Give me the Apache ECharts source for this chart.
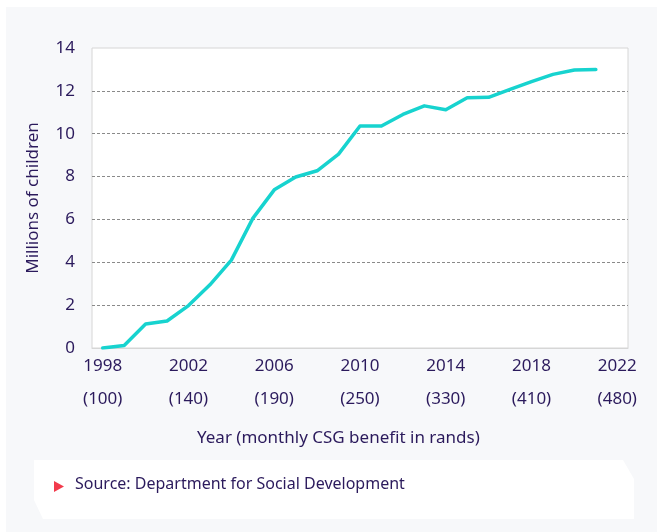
<!DOCTYPE html>
<html lang="en">
<head>
    <meta charset="UTF-8">
    <script src="https://cdn.jsdelivr.net/npm/echarts@6/dist/echarts.min.js"></script>
    <title>CSG recipients</title>
    <style>
        body { margin: 0; background: #ffffff; }
        #panel { position: absolute; left: 6px; top: 7px; width: 651px; height: 525px; background: #f7f8fa; }
        #chart { position: absolute; left: 0; top: 0; width: 657px; height: 532px; }
    </style>
</head>

<script>
    // years on the axis (2022 has no value yet)
    let years = ['1998', '1999', '2000', '2001', '2002', '2003', '2004', '2005', '2006', '2007', '2008', '2009',
                 '2010', '2011', '2012', '2013', '2014', '2015', '2016', '2017', '2018', '2019', '2020', '2021', '2022']
    // millions of children receiving the grant
    let children = [0.0, 0.12, 1.12, 1.26, 1.98, 2.95, 4.1, 6.05, 7.38, 7.98, 8.27, 9.05,
                    10.36, 10.36, 10.9, 11.3, 11.12, 11.68, 11.7, 12.07, 12.43, 12.77, 12.97, 13.0]
    // monthly benefit shown under each labelled year
    let benefit = {'1998': '100', '2002': '140', '2006': '190', '2010': '250', '2014': '330', '2018': '410', '2022': '480'}

    let textColor = '#2b1a5c'
    let font = 'Noto Sans'
</script>

<body>
    <div id="panel"></div>
    <div id="chart"></div>
    <script>
        var chart = echarts.init(document.getElementById('chart'))
        var option = {
            animation: false,
            textStyle: { fontFamily: font },
            grid: {
                left: 92, top: 48, width: 536, height: 300,
                show: true, backgroundColor: '#ffffff', borderColor: '#d6d6d6', borderWidth: 1
            },
            xAxis: {
                type: 'category',
                data: years,
                boundaryGap: true,
                axisLine: { lineStyle: { color: '#d6d6d6' } },
                axisTick: { show: false },
                axisLabel: {
                    interval: 3,
                    margin: 2,
                    color: textColor,
                    fontSize: 17,
                    lineHeight: 33,
                    formatter: function (v) { return v + '\n(' + benefit[v] + ')' }
                }
            },
            yAxis: {
                type: 'value',
                min: 0, max: 14, interval: 2,
                name: 'Millions of children',
                nameLocation: 'middle',
                nameGap: 50,
                nameTextStyle: { color: textColor, fontSize: 17 },
                axisLine: { show: false },
                axisTick: { show: false },
                axisLabel: { color: textColor, fontSize: 17, margin: 17 },
                splitLine: {
                    showMinLine: false, showMaxLine: false,
                    lineStyle: { color: '#8a8a8a', type: [3, 2], width: 1 }
                }
            },
            series: [{
                type: 'line',
                data: children,
                symbol: 'none',
                lineStyle: { color: '#17d3cf', width: 3.5, cap: 'round', join: 'round' }
            }],
            graphic: [
                {
                    type: 'text', left: 197, top: 430,
                    style: { text: 'Year (monthly CSG benefit in rands)', fill: textColor, font: '17px "Noto Sans"' }
                },
                {
                    type: 'polygon', z: 0,
                    shape: { points: [[34, 460], [623, 460], [634, 479], [634, 519], [43, 519], [34, 500]] },
                    style: { fill: '#ffffff' }
                },
                {
                    type: 'polygon', z: 1,
                    shape: { points: [[54, 481], [64, 486.5], [54, 492]] },
                    style: { fill: '#f23b4c' }
                },
                {
                    type: 'text', left: 75, top: 476, z: 1,
                    style: { text: 'Source: Department for Social Development', fill: textColor, font: '16px "Noto Sans"' }
                }
            ]
        }
        chart.setOption(option)
    </script>
</body>
</html>
